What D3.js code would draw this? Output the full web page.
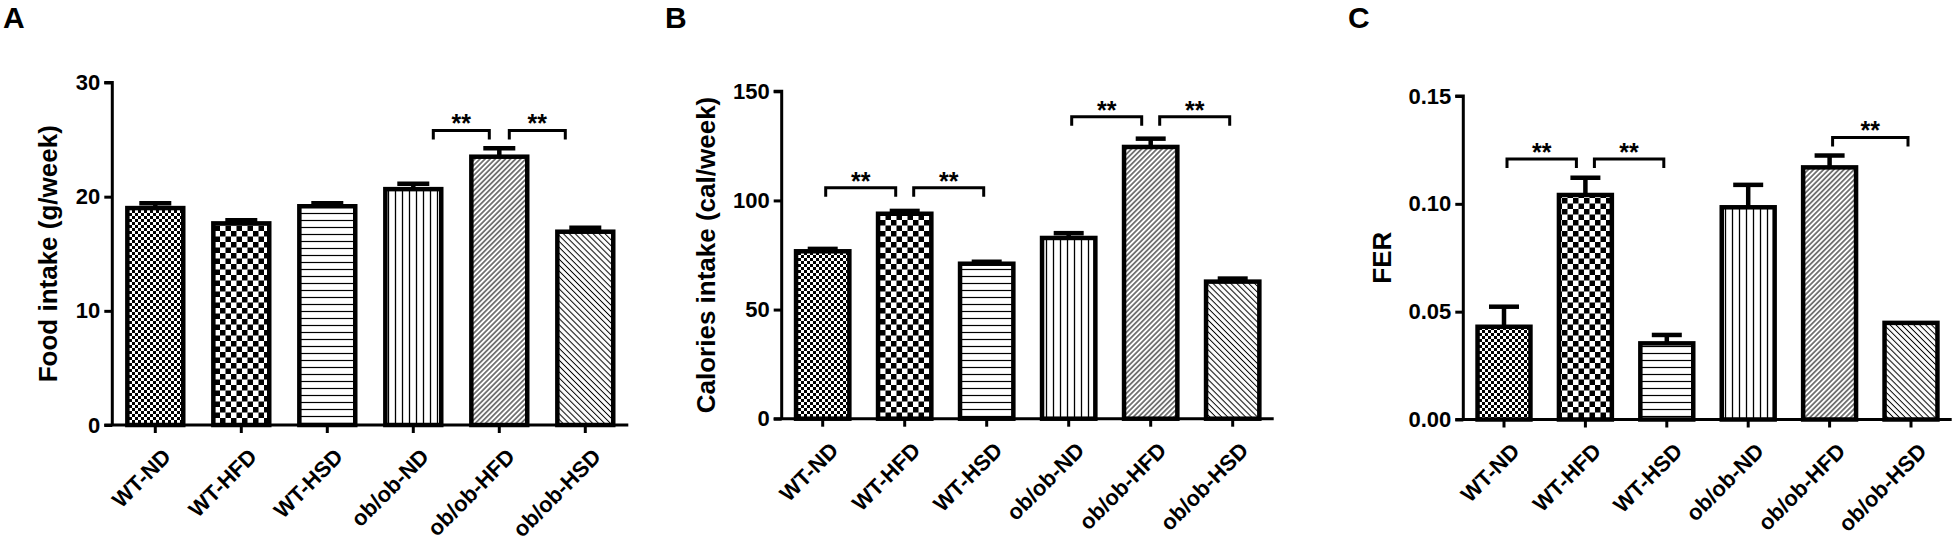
<!DOCTYPE html>
<html>
<head>
<meta charset="utf-8">
<script src="https://cdn.jsdelivr.net/npm/d3@7"></script>
<style>
  body { margin: 0; background: #fff; }
  svg { display: block; font-family: Arial, "Liberation Sans", sans-serif; }
</style>
</head>
<body>
<div class="chart"></div>
<script>
// three bar panels: food intake, calories, FER

const groups = ["WT-ND", "WT-HFD", "WT-HSD", "ob/ob-ND", "ob/ob-HFD", "ob/ob-HSD"];
const patterns = ["chkSmall", "chkBig", "hLines", "vLines", "diagUp", "diagDown"];

const foodMean = [19.0, 17.66, 19.16, 20.66, 23.5, 16.93];
const foodSem = [0.43, 0.28, 0.27, 0.48, 0.73, 0.35];
const foodTicks = [0, 10, 20, 30];
const foodSig = [[3, 4, 25.8], [4, 5, 25.8]];

const calMean = [76.7, 93.9, 71.0, 82.8, 124.5, 62.8];
const calSem = [1.1, 1.3, 0.9, 2.2, 3.8, 1.4];
const calTicks = [0, 50, 100, 150];
const calSig = [[0, 1, 105.8], [1, 2, 105.8], [3, 4, 138.3], [4, 5, 138.3]];

const ferMean = [0.0430, 0.1041, 0.0353, 0.0984, 0.1169, 0.0448];
const ferSem = [0.0093, 0.0080, 0.0039, 0.0104, 0.0055, 0];
const ferTicks = [0, 0.05, 0.10, 0.15];
const ferSig = [[0, 1, 0.1208], [1, 2, 0.1208], [4, 5, 0.1308]];

const width = 1957, height = 546;

const svg = d3.select('.chart')
    .append('svg')
    .attr("width", width)
    .attr("height", height);

svg.append("rect").attr("width", width).attr("height", height).attr("fill", "#fff");

// PATTERNS-------------------------
const defs = svg.append("defs");

function checker(id, c) {
    const p = defs.append("pattern").attr("id", id)
        .attr("patternUnits", "userSpaceOnUse")
        .attr("width", 2 * c).attr("height", 2 * c);
    p.append("rect").attr("width", 2 * c).attr("height", 2 * c).attr("fill", "#fff");
    p.append("rect").attr("width", c).attr("height", c).attr("fill", "#000");
    p.append("rect").attr("x", c).attr("y", c).attr("width", c).attr("height", c).attr("fill", "#000");
}
function lines(id, gap, lw, angle) {
    const p = defs.append("pattern").attr("id", id)
        .attr("patternUnits", "userSpaceOnUse")
        .attr("width", gap).attr("height", gap)
        .attr("patternTransform", `rotate(${angle})`);
    p.append("rect").attr("width", gap).attr("height", gap).attr("fill", "#fff");
    p.append("line").attr("x1", gap / 2).attr("x2", gap / 2)
        .attr("y1", 0).attr("y2", gap)
        .attr("stroke", "#000").attr("stroke-width", lw);
}
checker("chkSmall", 3);
checker("chkBig", 5.5);
lines("hLines", 7, 1.2, 90);
lines("vLines", 7, 1.3, 0);
lines("diagUp", 3.6, 1.0, 45);
lines("diagDown", 4.2, 1.0, -45);

// PANEL DRAW-----------------------
function drawPanel(cfg) {
    const g = svg.append("g");

    const xScale = d3.scaleBand()
        .domain(groups)
        .range([cfg.x0, cfg.x0 + cfg.step * groups.length])
        .paddingInner(0.35)
        .paddingOuter(0.175);

    const yScale = d3.scaleLinear()
        .domain([0, d3.max(cfg.ticks)])
        .range([cfg.y0, cfg.yTop]);

    const cx = d => xScale(d) + xScale.bandwidth() / 2;

    // panel letter
    g.append("text")
        .attr("x", cfg.letterX).attr("y", 28)
        .attr("font-size", 30).attr("font-weight", "bold")
        .text(cfg.letter);

    // bars
    g.selectAll(".bar")
        .data(groups)
        .enter()
        .append("rect")
        .attr("class", "bar")
        .attr("x", d => xScale(d))
        .attr("width", xScale.bandwidth())
        .attr("y", (d, i) => yScale(cfg.mean[i]))
        .attr("height", (d, i) => cfg.y0 - yScale(cfg.mean[i]))
        .attr("fill", (d, i) => `url(#${patterns[i]})`)
        .attr("stroke", "#000")
        .attr("stroke-width", 4.5);

    // error bars (upper only)
    const eb = g.selectAll(".err")
        .data(groups.map((d, i) => ({d, i})).filter(e => cfg.sem[e.i] > 0))
        .enter().append("g").attr("class", "err")
        .attr("stroke", "#000").attr("stroke-width", 4.5);
    eb.append("line")
        .attr("x1", e => cx(e.d)).attr("x2", e => cx(e.d))
        .attr("y1", e => yScale(cfg.mean[e.i]))
        .attr("y2", e => yScale(cfg.mean[e.i] + cfg.sem[e.i]));
    eb.append("line")
        .attr("x1", e => cx(e.d) - cfg.cap).attr("x2", e => cx(e.d) + cfg.cap)
        .attr("y1", e => yScale(cfg.mean[e.i] + cfg.sem[e.i]))
        .attr("y2", e => yScale(cfg.mean[e.i] + cfg.sem[e.i]));

    // axes
    const yAxis = d3.axisLeft(yScale)
        .tickValues(cfg.ticks)
        .tickFormat(cfg.fmt)
        .tickSize(8)
        .tickPadding(4);
    const ya = g.append("g")
        .attr("class", "axis y-axis")
        .attr("transform", `translate(${cfg.x0},0)`)
        .call(yAxis);

    const xAxis = d3.axisBottom(xScale)
        .tickSize(8)
        .tickSizeOuter(0);
    const xa = g.append("g")
        .attr("class", "axis x-axis")
        .attr("transform", `translate(0,${cfg.y0})`)
        .call(xAxis);

    [ya, xa].forEach(a => {
        a.select(".domain").attr("stroke", "#000").attr("stroke-width", 3);
        a.selectAll(".tick line").attr("stroke", "#000").attr("stroke-width", 3);
        a.selectAll("text")
            .attr("font-family", "Arial, 'Liberation Sans', sans-serif")
            .attr("font-size", 22).attr("font-weight", "bold")
            .attr("fill", "#000");
    });
    ya.select(".domain").attr("d", `M-8,${cfg.yTop}H0V${cfg.y0}`);
    xa.select(".domain").attr("d", `M${cfg.x0 - 8},0H${cfg.x0 + cfg.step * groups.length}`);

    xa.selectAll(".tick text")
        .attr("text-anchor", "end")
        .attr("y", 0).attr("dy", "0.71em")
        .attr("transform", "translate(6,22) rotate(-45)");

    // y title
    g.append("text")
        .attr("transform", `translate(${cfg.labelX},${(cfg.y0 + cfg.yTop) / 2}) rotate(-90)`)
        .attr("text-anchor", "middle")
        .attr("font-size", 26).attr("font-weight", "bold")
        .text(cfg.label);

    // significance brackets
    const used = {};
    cfg.sig.forEach(s => {
        used[s[0] + "_" + s[2]] = (used[s[0] + "_" + s[2]] || 0) + 1;
        used[s[1] + "_" + s[2]] = (used[s[1] + "_" + s[2]] || 0) + 1;
    });
    const inset = (k, lvl) => used[k + "_" + lvl] > 1 ? cfg.insetShared : cfg.insetEnd;

    const br = g.selectAll(".sig")
        .data(cfg.sig)
        .enter().append("g").attr("class", "sig");
    br.append("path")
        .attr("d", s => {
            const xl = cx(groups[s[0]]) + inset(s[0], s[2]);
            const xr = cx(groups[s[1]]) - inset(s[1], s[2]);
            const y = yScale(s[2]);
            return `M${xl},${y + 9}V${y}H${xr}V${y + 9}`;
        })
        .attr("fill", "none").attr("stroke", "#000").attr("stroke-width", 3);
    br.append("text")
        .attr("x", s => (cx(groups[s[0]]) + inset(s[0], s[2]) + cx(groups[s[1]]) - inset(s[1], s[2])) / 2)
        .attr("y", s => yScale(s[2]) + 2)
        .attr("text-anchor", "middle")
        .attr("font-size", 25).attr("font-weight", "bold")
        .text("**");
}

drawPanel({letter: "A", letterX: 3, x0: 112.3, step: 86, y0: 425, yTop: 82.5,
    ticks: foodTicks, fmt: d3.format("d"), label: "Food intake (g/week)", labelX: 57,
    mean: foodMean, sem: foodSem, sig: foodSig, cap: 16, insetEnd: 20, insetShared: 10});

drawPanel({letter: "B", letterX: 665, x0: 781.7, step: 82, y0: 418.7, yTop: 91.3,
    ticks: calTicks, fmt: d3.format("d"), label: "Calories intake (cal/week)", labelX: 715,
    mean: calMean, sem: calSem, sig: calSig, cap: 15, insetEnd: 3, insetShared: 9});

drawPanel({letter: "C", letterX: 1348, x0: 1463.3, step: 81.4, y0: 419.5, yTop: 96,
    ticks: ferTicks, fmt: d3.format(".2f"), label: "FER", labelX: 1391,
    mean: ferMean, sem: ferSem, sig: ferSig, cap: 15, insetEnd: 3, insetShared: 9});
</script>
</body>
</html>
